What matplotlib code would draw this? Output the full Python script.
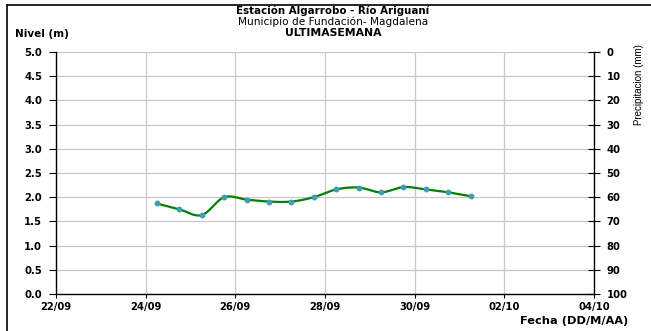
import numpy as np
import matplotlib
matplotlib.use("Agg")
import matplotlib.pyplot as plt
import matplotlib.dates as mdates
from matplotlib.lines import Line2D
from datetime import datetime

plt.rcParams['font.family'] = ['DejaVu Sans']

# ---- data ----
times = ["2023-09-24 06:00", "2023-09-24 18:00", "2023-09-25 06:00", "2023-09-25 18:00",
         "2023-09-26 06:00", "2023-09-26 18:00", "2023-09-27 06:00", "2023-09-27 18:00",
         "2023-09-28 06:00", "2023-09-28 18:00", "2023-09-29 06:00", "2023-09-29 18:00",
         "2023-09-30 06:00", "2023-09-30 18:00", "2023-10-01 06:00"]
nivel = [1.87, 1.75, 1.63, 2.00, 1.95, 1.91, 1.91, 2.00, 2.16, 2.20, 2.10, 2.21, 2.16, 2.10, 2.02]
xtick_dates = ["2023-09-22", "2023-09-24", "2023-09-26", "2023-09-28",
               "2023-09-30", "2023-10-02", "2023-10-04"]
left_ticks = [0.0, 0.5, 1.0, 1.5, 2.0, 2.5, 3.0, 3.5, 4.0, 4.5, 5.0]
right_ticks = [0, 10, 20, 30, 40, 50, 60, 70, 80, 90, 100]

title1 = "Estación Algarrobo - Río Ariguaní"
title2 = "Municipio de Fundación- Magdalena"
title3 = "ULTIMASEMANA"

# ---- helpers ----
def catmull_rom(x, y, n=20):
    x = np.asarray(x, float); y = np.asarray(y, float)
    px = np.concatenate([[2*x[0]-x[1]], x, [2*x[-1]-x[-2]]])
    py = np.concatenate([[2*y[0]-y[1]], y, [2*y[-1]-y[-2]]])
    xs, ys = [], []
    t = np.linspace(0, 1, n, endpoint=False)
    for i in range(1, len(px)-2):
        p0, p1, p2, p3 = px[i-1], px[i], px[i+1], px[i+2]
        q0, q1, q2, q3 = py[i-1], py[i], py[i+1], py[i+2]
        def cr(a, b, c, d):
            return 0.5*((2*b) + (-a+c)*t + (2*a-5*b+4*c-d)*t**2 + (-a+3*b-3*c+d)*t**3)
        xs.append(cr(p0, p1, p2, p3)); ys.append(cr(q0, q1, q2, q3))
    xs.append([x[-1]]); ys.append([y[-1]])
    return np.concatenate(xs), np.concatenate(ys)

tx = mdates.date2num([datetime.strptime(s, "%Y-%m-%d %H:%M") for s in times])
xt = mdates.date2num([datetime.strptime(s, "%Y-%m-%d") for s in xtick_dates])

W, H = 651, 331
L, R, T, B = 56, 594, 52, 294
fig = plt.figure(figsize=(W/100, H/100), dpi=100)
ax = fig.add_axes([L/W, 1-B/H, (R-L)/W, (B-T)/H])

sx, sy = catmull_rom(tx, nivel)
ax.plot(sx, sy, color='#008000', lw=1.6, zorder=3)
ax.plot(tx, nivel, ls='none', marker='o', ms=3.2, mfc='#3d9fb0', mec='#3d9fb0', zorder=4)

ax.set_xlim(xt[0], xt[-1])
ax.set_ylim(0, 5)
ax.set_xticks(xt)
ax.set_xticklabels([datetime.strptime(s, "%Y-%m-%d").strftime("%d/%m") for s in xtick_dates],
                   fontsize=7.2, fontweight='bold')
ax.set_yticks(left_ticks)
ax.set_yticklabels([f"{v:.1f}" for v in left_ticks], fontsize=7.2, fontweight='bold')
ax.grid(True, color='#c8c8c8', lw=0.9)
ax.set_axisbelow(True)
ax.tick_params(axis='y', direction='out', length=5, width=0.8, color='black', pad=5)
ax.tick_params(axis='x', direction='out', length=3, width=0.8, color='black', pad=3)
ax.spines['top'].set_visible(False)
ax.spines['right'].set_visible(False)
ax.spines['left'].set_linewidth(1.0)
ax.spines['bottom'].set_linewidth(1.0)

ax2 = ax.twinx()
ax2.set_ylim(100, 0)
ax2.set_yticks(right_ticks)
ax2.set_yticklabels([str(v) for v in right_ticks], fontsize=7.2, fontweight='bold')
ax2.tick_params(axis='y', direction='inout', length=8, width=0.8, pad=5)
for s in ['top', 'left', 'bottom']:
    ax2.spines[s].set_visible(False)
ax2.spines['right'].set_linewidth(1.0)

fig.text(333/W, 1-11/H, title1, ha='center', va='center', fontsize=7.4, fontweight='bold')
fig.text(333/W, 1-22/H, title2, ha='center', va='center', fontsize=7.6)
fig.text(333/W, 1-32.5/H, title3, ha='center', va='center', fontsize=7.8, fontweight='bold')
fig.text(15/W, 1-34/H, "Nivel (m)", ha='left', va='center', fontsize=7.5, fontweight='bold')
fig.text(628/W, 1-321/H, "Fecha (DD/M/AA)", ha='right', va='center', fontsize=8.2, fontweight='bold')
fig.text(639/W, 1-85/H, "Precipitacion (mm)", ha='center', va='center', rotation=90,
         fontsize=7, family=['Liberation Sans Narrow', 'Liberation Sans'])

# outer frame (left and top)
fig.add_artist(Line2D([7/W, 7/W], [0, 1-5/H], transform=fig.transFigure, color='black', lw=1.2))
fig.add_artist(Line2D([7/W, 1], [1-5/H, 1-5/H], transform=fig.transFigure, color='black', lw=1.2))

fig.savefig("out.png", dpi=100)
